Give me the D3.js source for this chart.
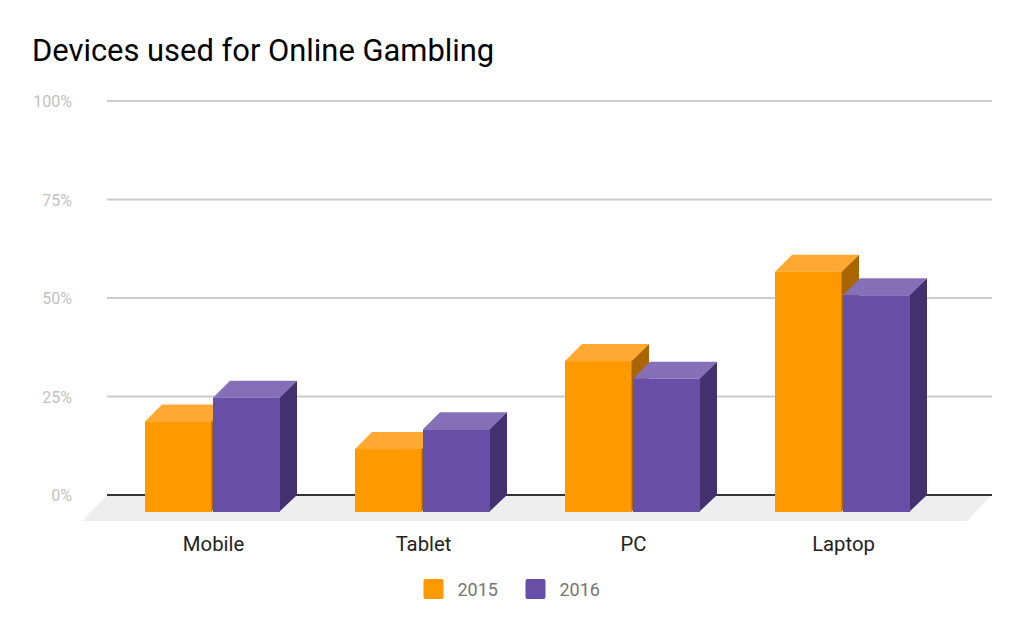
<!DOCTYPE html>
<html>
<head>
<meta charset="utf-8">
<script src="https://cdnjs.cloudflare.com/ajax/libs/d3/7.8.5/d3.min.js"></script>
<style>
  html, body { margin: 0; padding: 0; background: #fff; }
  text { font-family: Roboto, sans-serif; }
</style>
</head>
<body>
<svg id="chart" width="1024" height="633"></svg>
<script>
const categories = ["Mobile", "Tablet", "PC", "Laptop"];
const years = ["2015", "2016"];
const values2015 = [23, 16, 38.3, 61];
const values2016 = [29, 21, 33.8, 55];
const yTicks = [0, 25, 50, 75, 100];

const faceColors = {
  "2015": { front: "#ff9900", top: "#ffa933", side: "#a86500" },
  "2016": { front: "#674ea7", top: "#8570b8", side: "#42316e" }
};

const svg = d3.select("#chart");
const depth = 17;
const floorY = 512;

const x = d3.scaleBand().domain(categories).range([107.5, 947.5])
  .paddingInner(75 / 210).paddingOuter(37.5 / 210);
const xSub = d3.scaleBand().domain(years).range([0, x.bandwidth()]);
const y = d3.scaleLinear().domain([0, 100]).range([495, 101]);

svg.append("text")
  .attr("x", 32).attr("y", 61)
  .attr("font-size", 30.9).attr("fill", "#000")
  .text("Devices used for Online Gambling");

// floor
svg.append("polygon")
  .attr("points", [[107, y(0)], [992, y(0)], [967, 521], [82, 521]].join(" "))
  .attr("fill", "#eeeeee");

// grid
svg.selectAll(".grid")
  .data(yTicks)
  .join("line")
  .attr("class", "grid")
  .attr("x1", 107).attr("x2", 992)
  .attr("y1", d => y(d)).attr("y2", d => y(d))
  .attr("stroke", d => d === 0 ? "#333333" : "#cccccc")
  .attr("stroke-width", 2);

svg.selectAll(".tick-label")
  .data(yTicks)
  .join("text")
  .attr("class", "tick-label")
  .attr("x", 72).attr("y", d => y(d) + 6)
  .attr("text-anchor", "end")
  .attr("font-size", 16).attr("fill", "#c2c2c2")
  .text(d => d + "%");

// bars, 2015 first so 2016 sits over its side face
const rows = years.flatMap(yr => {
  const vals = yr === "2015" ? values2015 : values2016;
  return categories.map((c, i) => ({ c, yr, v: vals[i] }));
});

const bars = svg.selectAll(".bar")
  .data(rows)
  .join("g")
  .attr("class", "bar");

const left = d => x(d.c) + xSub(d.yr) + (d.yr === "2016" ? 0.5 : 0);
const right = d => x(d.c) + xSub(d.yr) + xSub.bandwidth() - (d.yr === "2015" ? 0.5 : 0);
const topY = d => floorY - (y(0) - y(d.v));

bars.append("polygon")
  .attr("points", d => [[right(d) - 1, topY(d)], [right(d) + depth, topY(d) - depth], [right(d) + depth, floorY - depth], [right(d) - 1, floorY]].join(" "))
  .attr("fill", d => faceColors[d.yr].side);

bars.append("polygon")
  .attr("points", d => [[left(d), topY(d)], [left(d) + depth, topY(d) - depth], [right(d) + depth, topY(d) - depth], [right(d), topY(d)]].join(" "))
  .attr("fill", d => faceColors[d.yr].top);

bars.append("rect")
  .attr("x", left)
  .attr("y", topY)
  .attr("width", d => right(d) - left(d) - (d.yr === "2015" ? 0.5 : 0))
  .attr("height", d => floorY - topY(d))
  .attr("fill", d => faceColors[d.yr].front);

svg.selectAll(".cat-label")
  .data(categories)
  .join("text")
  .attr("class", "cat-label")
  .attr("x", d => x(d) + x.bandwidth() / 2 + 1)
  .attr("y", 551)
  .attr("text-anchor", "middle")
  .attr("font-size", 20.3).attr("fill", "#222222")
  .text(d => d);

// legend
const legendX = d3.scaleOrdinal().domain(years).range([423.5, 525.5]);
const legend = svg.selectAll(".legend")
  .data(years)
  .join("g")
  .attr("class", "legend")
  .attr("transform", d => `translate(${legendX(d)},579)`);

legend.append("rect")
  .attr("width", 20).attr("height", 20).attr("rx", 2)
  .attr("fill", d => faceColors[d].front);

legend.append("text")
  .attr("x", 34).attr("y", 17)
  .attr("font-size", 18).attr("fill", "#757575")
  .text(d => d);
</script>
</body>
</html>
